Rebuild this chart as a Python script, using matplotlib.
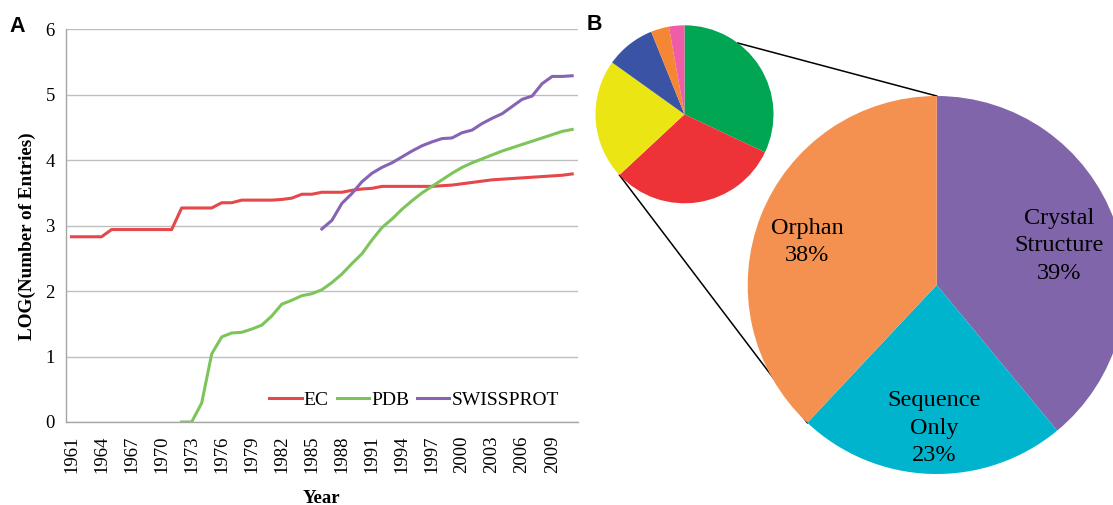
import numpy as np
import matplotlib
matplotlib.use("Agg")
import matplotlib.pyplot as plt

plt.rcParams['font.family'] = ['Liberation Serif', 'DejaVu Serif']

# ---- panel A data: log10(number of entries) per year
years = list(range(1961, 2012))

ec = [2.83, 2.83, 2.83, 2.83, 2.94, 2.94, 2.94, 2.94, 2.94, 2.94,
      2.94, 3.27, 3.27, 3.27, 3.27, 3.35, 3.35, 3.39, 3.39, 3.39,
      3.39, 3.40, 3.42, 3.48, 3.48, 3.51, 3.51, 3.51, 3.54, 3.56,
      3.57, 3.60, 3.60, 3.60, 3.60, 3.60, 3.60, 3.61, 3.62, 3.64,
      3.66, 3.68, 3.70, 3.71, 3.72, 3.73, 3.74, 3.75, 3.76, 3.77,
      3.79]

pdb_years = list(range(1972, 2012))
pdb = [0.0, 0.0, 0.29, 1.04, 1.30, 1.36, 1.37, 1.42, 1.48, 1.62,
       1.80, 1.86, 1.93, 1.96, 2.02, 2.13, 2.26, 2.42, 2.57, 2.78,
       2.97, 3.10, 3.25, 3.38, 3.50, 3.60, 3.70, 3.80, 3.89, 3.96,
       4.02, 4.08, 4.14, 4.19, 4.24, 4.29, 4.34, 4.39, 4.44, 4.47]

sp_years = list(range(1986, 2012))
swissprot = [2.95, 3.08, 3.34, 3.49, 3.67, 3.80, 3.89, 3.96, 4.05, 4.14,
             4.22, 4.28, 4.33, 4.34, 4.42, 4.46, 4.56, 4.64, 4.71, 4.82,
             4.93, 4.98, 5.17, 5.28, 5.28, 5.29]

# ---- panel B data
small_shares = [32, 31, 21.8, 9, 3.3, 2.8]
small_colors = ['#00A651', '#EE3338', '#EBE514', '#3A53A4', '#F58634', '#EF5DA8']

big_names = ['Crystal\nStructure', 'Sequence\nOnly', 'Orphan']
big_shares = [39, 23, 38]
big_colors = ['#8165AA', '#00B4CD', '#F59150']

W, H = 1113, 505
fig = plt.figure(figsize=(W / 100, H / 100), dpi=100)

# ---------------- panel A
ax = fig.add_axes([66 / W, 1 - 422 / H, (577.7 - 66) / W, (422 - 29.3) / H])
ax.plot(years, ec, color='#E5474B', lw=2.2, label='EC')
ax.plot(pdb_years, pdb, color='#7DC55A', lw=2.2, label='PDB')
ax.plot(sp_years, swissprot, color='#8663B3', lw=2.2, label='SWISSPROT')

ax.set_xlim(1960.45, 2011.55)
ax.set_ylim(0, 6)
ax.set_yticks(range(0, 7))
ax.set_xticks(years[::3])
ax.set_xticklabels([str(y) for y in years[::3]], rotation=90)
ax.tick_params(axis='both', length=0, labelsize=13.5)
ax.tick_params(axis='x', pad=10)
ax.tick_params(axis='y', pad=8)
ax.grid(axis='y', color='#BFBFBF', lw=1)
ax.set_axisbelow(True)
for s in ['top', 'right']:
    ax.spines[s].set_visible(False)
for s in ['left', 'bottom']:
    ax.spines[s].set_color('#A6A6A6')
    ax.spines[s].set_linewidth(1)

ax.set_ylabel('LOG(Number of Entries)', fontsize=13.8, fontweight='bold')
ax.yaxis.set_label_coords(-0.058, 0.474)
ax.set_xlabel('Year', fontsize=13.5, fontweight='bold', labelpad=12)

ax.legend(loc='center right', bbox_to_anchor=(0.963, 0.055), ncol=3,
          frameon=False, fontsize=14, handlelength=1.65, handletextpad=0.12,
          columnspacing=0.4, borderpad=0, borderaxespad=0)

fig.text(9 / W, 1 - 26 / H, 'A', family='Liberation Sans', fontweight='bold',
         fontsize=15.5, va='center', ha='left')

# ---------------- panel B (axes in pixel units, y flipped)
bx = fig.add_axes([580 / W, 0, (W - 580) / W, 1])
small_c = (684.5, H - 114.3)
small_r = 89
big_c = (936.7, H - 285)
big_r = 189

sw, _ = bx.pie(small_shares, colors=small_colors, startangle=90,
               counterclock=False, center=small_c, radius=small_r,
               wedgeprops=dict(linewidth=0))
bw, bt = bx.pie(big_shares, colors=big_colors, startangle=90,
                counterclock=False, center=big_c, radius=big_r,
                labels=[f'{n}\n{v}%' for n, v in zip(big_names, big_shares)],
                labeldistance=0.72,
                textprops=dict(ha='center', va='center', fontsize=17.5,
                               linespacing=1.4),
                wedgeprops=dict(linewidth=0))
# nudge the labels a little, like the original
for t, dx in zip(bt, [-6, 2, -3]):
    x, y = t.get_position()
    t.set_position((x + dx, y - 7))

# connector lines from the small pie to the big pie
def pt(c, r, ang):
    a = np.deg2rad(ang)
    return c[0] + r * np.cos(a), c[1] + r * np.sin(a)

p1 = pt(small_c, small_r, 53.2)
q1 = pt(big_c, big_r, 90)
p2 = pt(small_c, small_r, sw[1].theta1)
q2 = pt(big_c, big_r, bw[1].theta1)
bx.plot([p1[0], q1[0]], [p1[1], q1[1]], color='black', lw=1.1, zorder=0)
bx.plot([p2[0], q2[0]], [p2[1], q2[1]], color='black', lw=1.1, zorder=0)

bx.set_xlim(580, W)
bx.set_ylim(0, H)
bx.set_aspect('auto')
bx.axis('off')

fig.text(587 / W, 1 - 25 / H, 'B', family='Liberation Sans', fontweight='bold',
         fontsize=15.5, va='center', ha='left')

fig.savefig('out.png', dpi=100)
